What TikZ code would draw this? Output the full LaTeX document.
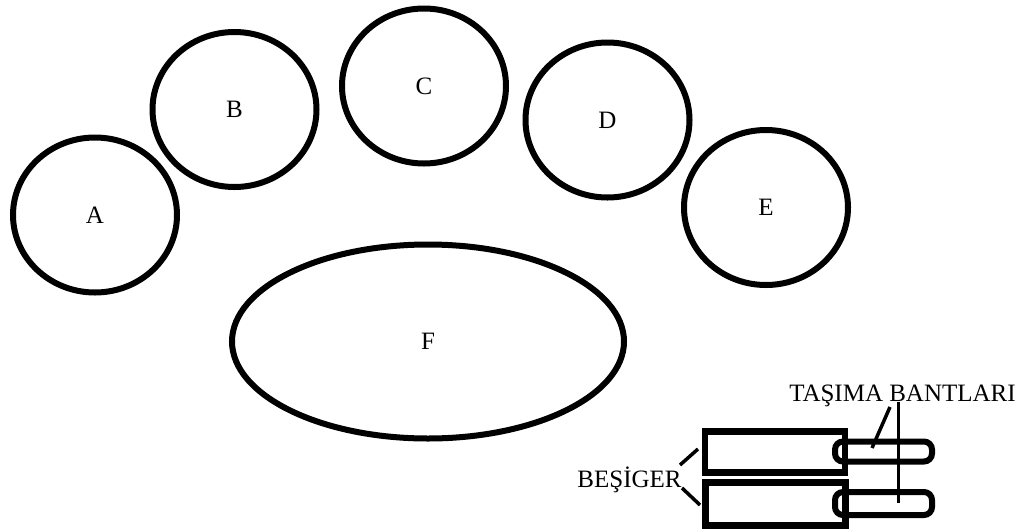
\documentclass[tikz,border=0pt]{standalone}
\usepackage{fontspec}
\setmainfont{Liberation Serif}
\usetikzlibrary{shapes.geometric}
\begin{document}
\begin{tikzpicture}[x=1pt,y=-1pt,
  every node/.style={font=\fontsize{25}{30}\selectfont, inner sep=0pt, outer sep=0pt},
  station/.style={ellipse, draw, line width=6pt, minimum width=164pt, minimum height=155pt},
  table/.style={ellipse, draw, line width=6pt, minimum width=392pt, minimum height=194pt},
  cradle/.style={rectangle, draw, line width=6.5pt, minimum width=140pt},
  belt/.style={rectangle, draw, line width=6pt, rounded corners=8pt, minimum width=97pt},
  lead/.style={line width=3.5pt}]
\useasboundingbox (0,0) rectangle (1029,531);

% work stations
\node[station] (A) at (95,215) {A};
\node[station] (B) at (234.5,109.5) {B};
\node[station] (C) at (424,86) {C};
\node[station] (D) at (607.5,120) {D};
\node[station] (E) at (766,207.5) {E};
\node[table]   (F) at (428,341.5) {F};

% conveyor belts
\node[belt, minimum height=20pt] (belt1) at (883.5,451.5) {};
\node[belt, minimum height=23pt] (belt2) at (883.5,503.5) {};

% cradles
\node[cradle, minimum height=41pt] (cr1) at (775,452) {};
\node[cradle, minimum height=43pt] (cr2) at (775.5,504) {};

% labels
\node[anchor=base] (tasima) at (902.5,401) {TAŞIMA BANTLARI};
\node[anchor=base] (besiger) at (629.5,487) {BEŞİGER};

% leader lines
\coordinate (ta) at (890,407);
\coordinate (tb) at (872,448);
\coordinate (tc) at (898.5,402);
\coordinate (td) at (898.5,503);
\draw[lead] (ta) -- (tb);
\draw[lead] (tc) -- (td);

\coordinate (ba) at (680,465);
\coordinate (bb) at (698,449);
\coordinate (bc) at (682,488);
\coordinate (bd) at (700,505);
\draw[lead] (ba) -- (bb);
\draw[lead] (bc) -- (bd);
\end{tikzpicture}
\end{document}
